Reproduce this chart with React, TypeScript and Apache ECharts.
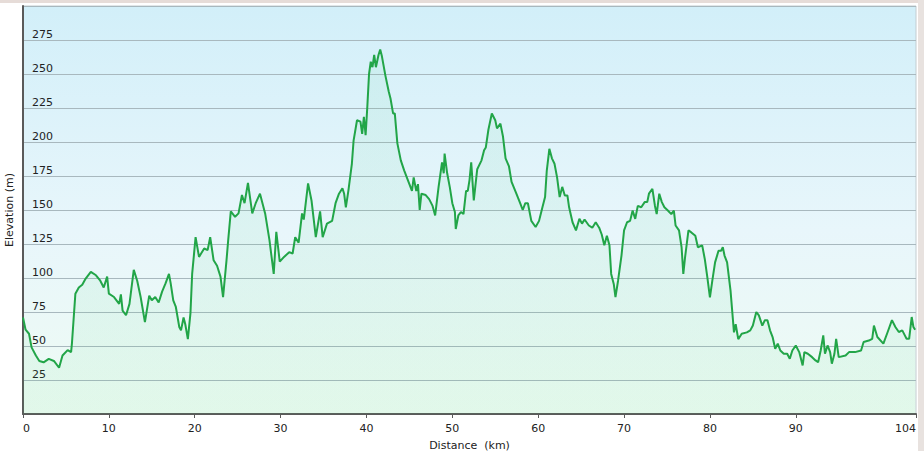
import React, { useEffect, useRef } from "react";
import * as echarts from "echarts";

const distanceKm: number[] = [
  0.0, 0.3, 0.7, 1.0, 1.5, 1.9, 2.4, 3.0, 3.6, 4.2, 4.6, 5.2, 5.6, 5.7, 6.1, 6.5, 6.9, 7.3, 7.9, 8.5,
  9.0, 9.4, 9.8, 10.0, 10.6, 11.2, 11.4, 11.6, 12.0, 12.4, 12.9, 13.3, 13.7, 14.2, 14.7, 15.0, 15.4, 15.8, 16.2, 16.6,
  17.0, 17.2, 17.5, 17.8, 18.2, 18.4, 18.7, 18.9, 19.2, 19.5, 19.7, 20.1, 20.5, 21.1, 21.5, 21.8, 22.2, 22.6, 23.0, 23.3,
  23.7, 23.9, 24.2, 24.7, 25.1, 25.5, 25.8, 26.2, 26.7, 27.1, 27.6, 28.2, 28.7, 29.2, 29.5, 29.9, 30.4, 31.0, 31.4, 31.7,
  32.1, 32.5, 32.7, 33.2, 33.6, 34.1, 34.6, 34.9, 35.4, 36.0, 36.4, 36.8, 37.2, 37.4, 37.6, 37.9, 38.3, 38.5, 38.9, 39.3,
  39.5, 39.7, 39.9, 40.1, 40.3, 40.5, 40.7, 40.9, 41.1, 41.4, 41.6, 41.8, 42.2, 42.6, 42.8, 43.1, 43.3, 43.6, 44.0, 44.4,
  45.0, 45.3, 45.5, 45.8, 46.0, 46.2, 46.4, 46.9, 47.3, 47.7, 48.0, 48.4, 48.8, 49.0, 49.1, 49.4, 49.7, 50.0, 50.3, 50.4,
  50.7, 51.0, 51.3, 51.6, 51.8, 52.0, 52.2, 52.5, 52.9, 53.4, 53.7, 53.9, 54.2, 54.6, 55.0, 55.2, 55.6, 55.9, 56.2, 56.6,
  56.9, 57.4, 57.9, 58.2, 58.5, 58.8, 59.2, 59.7, 60.1, 60.45, 60.8, 61.0, 61.3, 61.6, 61.9, 62.2, 62.5, 62.8, 63.1, 63.4,
  63.6, 64.0, 64.4, 64.8, 65.1, 65.4, 65.9, 66.3, 66.7, 67.1, 67.4, 67.7, 68.0, 68.3, 68.5, 68.8, 69.0, 69.3, 69.7, 70.0,
  70.35, 70.7, 71.0, 71.3, 71.6, 72.0, 72.4, 72.7, 72.9, 73.3, 73.6, 73.8, 74.1, 74.4, 74.7, 75.1, 75.5, 75.8, 76.0, 76.4,
  76.7, 76.9, 77.1, 77.5, 77.8, 78.3, 78.6, 79.1, 79.4, 79.7, 80.0, 80.3, 80.6, 81.0, 81.3, 81.5, 81.7, 82.0, 82.4, 82.8,
  83.0, 83.3, 83.7, 84.3, 84.7, 85.0, 85.4, 85.7, 86.1, 86.4, 86.7, 87.0, 87.3, 87.6, 87.9, 88.2, 88.6, 89.0, 89.3, 89.6,
  90.0, 90.4, 90.8, 91.0, 91.4, 91.9, 92.3, 92.6, 92.9, 93.2, 93.4, 93.7, 94.0, 94.2, 94.5, 94.7, 95.0, 95.8, 96.2, 96.9,
  97.6, 97.9, 98.5, 98.9, 99.1, 99.5, 100.2, 100.7, 101.2, 101.6, 102.0, 102.4, 102.7, 102.9, 103.2, 103.5, 103.7, 103.9,
];

const elevationM: number[] = [
  71, 62, 59, 49, 43, 39, 38, 40.5, 39, 34, 43, 47, 45.5, 52, 88.5, 93, 95, 99.6, 104.5, 102,
  98, 93, 101, 88.5, 86, 81, 88, 76, 72.6, 81, 106, 98, 86, 67.6, 87, 83.6, 86, 82, 90, 96,
  103, 96, 83.6, 78.7, 64, 61.5, 71, 66, 55, 74, 103, 130, 115.5, 121.7, 120.5, 130, 113, 109, 101, 86,
  113, 128, 149, 145, 147.5, 161, 155, 170, 147.5, 155, 162, 147.5, 128, 103, 134, 112, 115.5, 119, 118, 130,
  126, 147.5, 143, 169.6, 157, 130, 149, 130, 140, 142, 155, 162, 166, 162, 152, 164.4, 184, 201, 216, 215,
  206, 218.5, 205, 226, 250, 259, 255, 264, 255, 264, 268, 263, 249, 237, 232, 221, 221, 199, 186.5, 179,
  169, 164, 174, 164, 169, 150, 162, 161, 158, 153, 146, 167, 185, 177, 191.5, 177, 167, 155, 148.5, 136,
  146, 148.5, 147, 164, 164, 172, 185, 157, 180, 186.5, 194, 196, 209, 221, 216, 210, 213.5, 204, 188, 182,
  170.6, 163, 155, 150, 155, 155, 142, 137.5, 142, 151, 159.5, 179, 195, 188, 184, 174, 159.5, 167, 160.7, 160.7,
  152, 141, 135, 143.5, 140, 143, 138.6, 137, 141, 137, 132, 124, 131, 124, 103, 95.6, 86, 98, 116.5, 135,
  141, 142, 149.6, 143.5, 153, 152, 155.8, 155.8, 162, 165.6, 153, 147, 162, 155.8, 152, 149.6, 147, 149.6, 138.6, 135,
  122.6, 103, 115, 135, 133.7, 131, 122.6, 124, 114, 100.5, 85.7, 99, 111.5, 120, 120, 122.6, 116.5, 111.5, 90.7, 60,
  66, 55, 59, 60, 61.5, 65, 75, 72.5, 65, 69, 69, 61.5, 56.6, 48, 51.7, 46.7, 44.3, 44.3, 40.6, 46.7,
  50.4, 45.5, 35.7, 45.5, 44.3, 41.8, 39.4, 38.1, 46.7, 57.8, 44.3, 50.4, 45.5, 37, 44.3, 55.3, 41.8, 43, 45.5, 45.5,
  46.7, 53, 54, 55.3, 65, 56.6, 51.7, 60.3, 69, 64, 60.3, 61.5, 57.8, 55.3, 55.3, 71.3, 64, 62,
];

const xTickValues: number[] = [0, 10, 20, 30, 40, 50, 60, 70, 80, 90, 104];
const yTickValues: number[] = [25, 50, 75, 100, 125, 150, 175, 200, 225, 250, 275];

export default function App() {
  const ref = useRef<HTMLDivElement>(null);

  useEffect(() => {
    if (!ref.current) return;
    const chart = echarts.init(ref.current, undefined, { renderer: "svg" });
    const seriesData = distanceKm.map((d, i) => [d, elevationM[i]]);
    const font = "DejaVu Sans, Verdana, sans-serif";
    chart.setOption({
      animation: false,
      backgroundColor: "#ffffff",
      grid: {
        left: 23,
        right: 8,
        top: 6,
        bottom: 37,
        containLabel: false,
        outerBoundsMode: "none",
        show: true,
        borderColor: "#c3ccd0",
        borderWidth: 1,
        backgroundColor: new echarts.graphic.LinearGradient(0, 0, 0, 1, [
          { offset: 0, color: "#d2eff9" },
          { offset: 0.55, color: "#e8f6fb" },
          { offset: 1, color: "#eefbf3" },
        ]),
      },
      graphic: [
        { type: "rect", left: 0, top: 0, shape: { width: 924, height: 3 }, style: { fill: "#e6dcd8" }, z: 10 },
        { type: "rect", left: 918, top: 0, shape: { width: 6, height: 451 }, style: { fill: "#e8e2df" }, z: 10 },
      ],
      xAxis: {
        type: "value",
        min: 0,
        max: 104,
        interval: 10,
        name: "Distance  (km)",
        nameLocation: "middle",
        nameGap: 26,
        nameTextStyle: { fontFamily: font, fontSize: 11, color: "#222" },
        axisLine: { show: true, lineStyle: { color: "#5a5a5a", width: 2 } },
        axisTick: { show: true, length: 4, lineStyle: { color: "#5a5a5a", width: 1 }, customValues: xTickValues },
        axisLabel: {
          fontFamily: font,
          fontSize: 11,
          color: "#222",
          margin: 9,
          customValues: xTickValues,
          alignMinLabel: "left",
          alignMaxLabel: "right",
        },
        splitLine: { show: false },
      },
      yAxis: {
        type: "value",
        min: 0,
        max: 300,
        interval: 25,
        name: "Elevation (m)",
        nameLocation: "middle",
        nameGap: 6,
        nameTextStyle: { fontFamily: font, fontSize: 11, color: "#222" },
        axisLine: { show: true, lineStyle: { color: "#5a5a5a", width: 2 } },
        axisTick: { show: false },
        axisLabel: {
          inside: true,
          fontFamily: font,
          fontSize: 11,
          color: "#222",
          margin: 9,
          verticalAlign: "bottom",
          align: "left",
          customValues: yTickValues,
        },
        splitLine: { show: true, lineStyle: { color: "#a8b8be", width: 1 } },
      },
      series: [
        {
          type: "line",
          data: seriesData,
          showSymbol: false,
          symbol: "none",
          lineStyle: { color: "#22a548", width: 2 },
          areaStyle: {
            color: new echarts.graphic.LinearGradient(0, 0, 0, 1, [
              { offset: 0, color: "rgba(60,200,120,0.10)" },
              { offset: 1, color: "rgba(60,210,110,0.10)" },
            ]),
          },
          z: 3,
        },
      ],
    });
    return () => chart.dispose();
  }, []);

  return (
    <div
      ref={ref}
      style={{ position: "fixed", left: 0, top: 0, width: 924, height: 451 }}
    />
  );
}
